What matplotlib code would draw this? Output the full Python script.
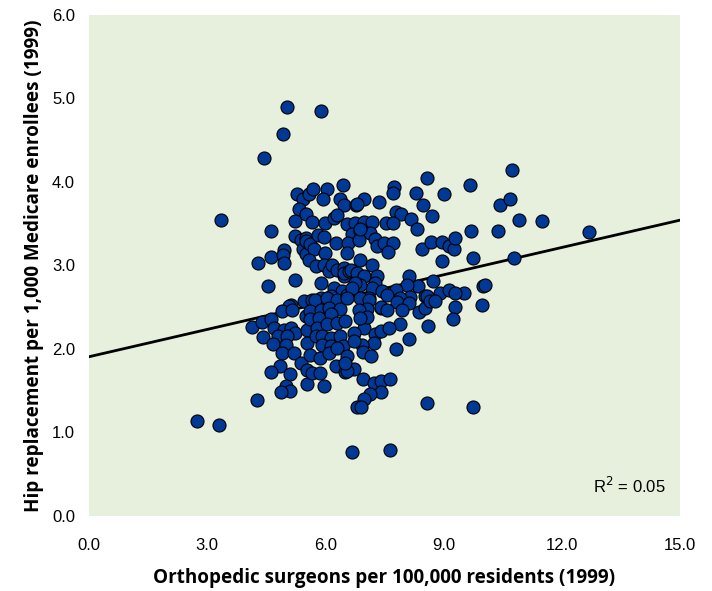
import matplotlib
matplotlib.use("Agg")
import matplotlib.pyplot as plt
import numpy as np

# surgeons per 100,000 residents (x) and hip replacements per 1,000 enrollees (y)
surgeons = [
    2.75, 3.30, 3.36, 4.26, 4.44, 4.29, 4.15, 4.40, 4.42, 4.54, 4.63, 4.61, 4.61,
    4.93, 5.03, 4.95, 4.93, 4.95, 5.22, 5.12, 5.07, 4.91, 5.16, 4.69, 4.95, 5.12,
    5.24, 4.80, 5.02, 4.68, 4.99, 4.91, 5.20, 4.86, 4.61, 5.10, 4.99, 5.10, 4.88,
    5.37, 5.27, 5.43, 5.33, 5.50, 5.23, 5.24, 5.37, 5.50, 5.44, 5.50, 5.45, 5.54,
    5.54, 5.50, 5.54, 5.54,
    5.58, 5.68, 6.05, 5.93, 6.38, 6.45, 6.47, 5.67, 6.00, 6.21, 6.30, 5.52, 5.62,
    5.81, 5.96, 5.71, 6.00, 6.28, 5.58, 5.75, 5.96, 6.09, 6.17, 6.30, 6.47, 6.47,
    5.90, 6.21, 6.43, 6.13, 5.88, 5.67, 5.73, 6.05, 6.30, 5.62, 5.88, 6.09, 6.38,
    5.62, 5.83, 6.13, 5.79, 6.03, 6.30, 5.75, 5.92, 6.13, 6.38, 5.92, 6.13, 6.45,
    5.62, 5.86, 6.09, 6.30, 5.67, 5.86, 6.26, 5.96, 5.90, 6.47,
    6.55, 6.76, 6.78, 6.68, 6.57, 6.55, 6.60, 6.99, 7.36, 6.79, 6.99, 7.19, 6.89,
    7.13, 7.27, 7.31, 7.48, 6.85, 6.87, 7.19, 6.64, 6.81, 6.98, 7.31, 7.27, 7.19,
    6.89, 6.76, 7.44, 7.10, 6.89, 6.55, 6.68, 6.55, 7.10, 7.40, 7.06, 6.85, 6.98,
    6.72, 7.27, 7.23, 6.93, 6.72, 6.51, 6.96, 7.16, 6.55, 6.72, 6.51, 6.55, 6.51,
    6.96, 7.23, 7.40, 7.40, 7.14, 6.98, 6.79, 6.91, 6.68, 7.40, 7.06, 6.89, 7.42,
    6.87,
    7.74, 7.71, 8.31, 8.58, 7.80, 7.92, 8.48, 8.18, 7.54, 7.72, 8.33, 7.71, 7.58,
    8.44, 8.12, 8.35, 8.07, 7.78, 7.57, 8.16, 7.90, 7.82, 8.12, 8.37, 7.95, 7.57,
    7.89, 7.61, 8.12, 7.78, 7.63, 7.63, 8.54, 8.54,
    8.70, 8.68, 8.96, 9.13, 9.27, 9.28, 9.02, 9.68, 8.96, 8.73, 8.92, 9.13, 8.58,
    8.66, 8.79, 9.53, 9.30, 9.28, 9.98, 9.23, 8.60, 8.58, 9.74, 9.74, 9.70, 10.00,
    10.06, 10.38, 10.44, 10.69, 10.73, 10.79, 10.92, 11.49, 12.70,
]
hip_rate = [
    1.14, 1.09, 3.54, 1.39, 4.28, 3.03, 2.26, 2.32, 2.14, 2.75, 3.41, 3.10, 2.36,
    4.57, 4.90, 3.18, 3.13, 3.03, 2.83, 2.53, 2.51, 2.45, 2.46, 2.25, 2.23, 2.25,
    2.19, 2.16, 2.16, 2.06, 2.05, 1.95, 1.95, 1.79, 1.72, 1.70, 1.55, 1.50, 1.48,
    1.83, 3.86, 3.80, 3.68, 3.61, 3.53, 3.35, 3.30, 3.33, 3.19, 3.14, 2.57, 2.23,
    2.07, 2.39, 1.75, 1.58,
    3.86, 3.92, 3.92, 3.79, 3.79, 3.96, 3.72, 3.52, 3.51, 3.57, 3.60, 3.29, 3.25,
    3.36, 3.34, 3.19, 3.15, 3.27, 3.06, 2.99, 3.01, 2.93, 3.01, 2.95, 2.97, 2.87,
    2.79, 2.73, 2.69, 2.63, 2.61, 2.59, 2.59, 2.61, 2.59, 2.45, 2.47, 2.49, 2.48,
    2.36, 2.37, 2.42, 2.25, 2.30, 2.31, 2.15, 2.16, 2.13, 2.16, 2.05, 2.03, 2.04,
    1.93, 1.89, 1.95, 2.01, 1.71, 1.71, 1.79, 1.56, 4.85, 2.91,
    3.50, 3.51, 3.72, 3.38, 3.27, 3.15, 2.93, 3.79, 3.76, 3.73, 3.52, 3.52, 3.41,
    3.39, 3.31, 3.23, 3.27, 3.30, 3.07, 3.00, 2.95, 2.91, 2.87, 2.87, 2.79, 2.73,
    2.77, 2.79, 2.69, 2.61, 2.61, 2.65, 2.73, 2.61, 2.59, 2.49, 2.48, 2.47, 2.25,
    2.19, 2.18, 2.07, 2.05, 2.09, 2.33, 1.96, 1.92, 1.91, 1.76, 1.72, 1.73, 1.83,
    1.64, 1.59, 1.62, 1.48, 1.46, 1.40, 1.31, 1.31, 0.76, 2.22, 2.38, 2.37, 2.50,
    3.43,
    3.94, 3.87, 3.87, 4.04, 3.64, 3.62, 3.72, 3.55, 3.51, 3.51, 3.43, 3.27, 3.16,
    3.20, 2.87, 2.75, 2.77, 2.71, 2.65, 2.62, 2.61, 2.56, 2.55, 2.44, 2.46, 2.46,
    2.30, 2.25, 2.12, 2.00, 1.64, 0.79, 2.49, 2.63,
    3.59, 3.28, 3.28, 3.23, 3.19, 3.33, 3.85, 3.96, 3.05, 2.81, 2.67, 2.71, 2.63,
    2.57, 2.57, 2.67, 2.67, 2.50, 2.53, 2.36, 2.27, 1.35, 1.30, 3.09, 3.41, 2.75,
    2.77, 3.41, 3.72, 3.80, 4.14, 3.09, 3.54, 3.53, 3.40,
]

# fitted line as shown in the chart
fit_intercept = 1.906
fit_slope = 0.109
r_squared = 0.05

x_ticks = [0, 3, 6, 9, 12, 15]
y_ticks = [0, 1, 2, 3, 4, 5, 6]

fig = plt.figure(figsize=(7.12, 5.91), dpi=100)
ax = fig.add_axes([0.125, 0.127, 0.830, 0.848])
ax.set_facecolor('#E6F0DC')

ax.scatter(surgeons, hip_rate, s=88, color='#003896', edgecolors='black',
           linewidths=0.8, zorder=3)

line_x = np.array([0, 15])
ax.plot(line_x, fit_intercept + fit_slope * line_x, color='black', lw=2, zorder=2)

ax.set_xlim(0, 15)
ax.set_ylim(0, 6)
ax.set_xticks(x_ticks)
ax.set_yticks(y_ticks)
ax.set_xticklabels([f'{v:.1f}' for v in x_ticks], fontfamily='Liberation Sans', fontsize=12)
ax.set_yticklabels([f'{v:.1f}' for v in y_ticks], fontfamily='Liberation Sans', fontsize=12)
ax.tick_params(axis='both', length=0)
ax.tick_params(axis='x', pad=16)
ax.tick_params(axis='y', pad=10)
for sp in ax.spines.values():
    sp.set_visible(False)

ax.set_xlabel('Orthopedic surgeons per 100,000 residents (1999)', fontfamily='Open Sans',
              fontweight='bold', fontsize=13.6, labelpad=11)
ax.set_ylabel('Hip replacement per 1,000 Medicare enrollees (1999)', fontfamily='Open Sans',
              fontweight='bold', fontsize=13.6, labelpad=6)

ax.text(0.975, 0.04, f'R$^2$ = {r_squared:.2f}', transform=ax.transAxes, ha='right',
        va='bottom', fontfamily='Liberation Sans', fontsize=12)

fig.savefig('out.png', dpi=100)
